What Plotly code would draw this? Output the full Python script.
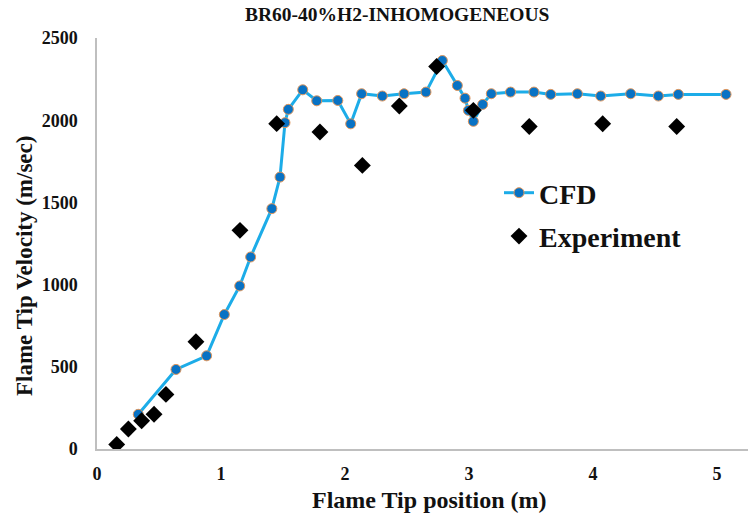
import plotly.graph_objects as go

# CFD flame-tip trajectory
cfd_x = [0.333, 0.637, 0.884, 1.027, 1.151, 1.239, 1.41, 1.476, 1.516, 1.543, 1.659,
         1.772, 1.942, 2.046, 2.134, 2.301, 2.476, 2.653, 2.785, 2.906, 2.968, 2.995,
         3.035, 3.11, 3.18, 3.335, 3.524, 3.659, 3.874, 4.062, 4.304, 4.527, 4.688, 5.073]
cfd_v = [211, 484, 567, 818, 992, 1168, 1462, 1654, 1985, 2066, 2185,
         2118, 2120, 1978, 2161, 2147, 2161, 2171, 2363, 2211, 2134, 2060,
         1993, 2096, 2161, 2171, 2171, 2157, 2161, 2147, 2161, 2147, 2157, 2157]

# Measured flame-tip velocities
exp_x = [0.159, 0.253, 0.36, 0.46, 0.556, 0.798, 1.153, 1.449, 1.798, 2.14, 2.438,
         2.739, 3.035, 3.486, 4.078, 4.675]
exp_v = [28, 122, 172, 211, 332, 652, 1330, 1979, 1928, 1725, 2086,
         2327, 2060, 1962, 1978, 1962]

x_ticks = [0, 1, 2, 3, 4, 5]
y_ticks = [0, 500, 1000, 1500, 2000, 2500]

serif = "Liberation Serif, Times New Roman, serif"
ink = "#111111"

fig = go.Figure()
fig.add_trace(go.Scatter(
    x=cfd_x, y=cfd_v, mode="lines+markers", name="CFD", legendgroup="a",
    line=dict(color="#1CACE8", width=3),
    marker=dict(symbol="circle", size=10, color="#0872C4",
                line=dict(color="#E0955A", width=1)),
))
fig.add_trace(go.Scatter(
    x=exp_x, y=exp_v, mode="markers", name="Experiment", legendgroup="b",
    marker=dict(symbol="diamond", size=13, color="#000000"),
))

W, H = 755, 517
L, R, T, B = 97, 7, 38, 68
pw, ph = W - L - R, H - T - B


def px_x(p):
    return (p - L) / pw


def px_y(p):
    return (H - B - p) / ph


fig.update_layout(
    width=W, height=H,
    margin=dict(l=L, r=R, t=T, b=B),
    paper_bgcolor="white", plot_bgcolor="white",
    font=dict(family=serif, color=ink),
    showlegend=True,
    legend=dict(x=px_x(499), y=px_y(168), xanchor="left", yanchor="top",
                font=dict(family=serif, size=28, weight="bold", color=ink),
                bgcolor="rgba(0,0,0,0)", tracegroupgap=4, itemwidth=30),
    annotations=[
        dict(text="BR60-40%H2-INHOMOGENEOUS", xref="paper", yref="paper",
             x=px_x(397), y=px_y(15), xanchor="center", yanchor="middle",
             showarrow=False,
             font=dict(family=serif, size=19.5, weight="bold", color=ink)),
        dict(text="Flame Tip position (m)", xref="paper", yref="paper",
             x=px_x(429), y=px_y(500), xanchor="center", yanchor="middle",
             showarrow=False,
             font=dict(family=serif, size=24, weight="bold", color=ink)),
        dict(text="Flame Tip Velocity (m/sec)", xref="paper", yref="paper",
             x=px_x(24), y=px_y(266), xanchor="center", yanchor="middle",
             showarrow=False, textangle=-90,
             font=dict(family=serif, size=23, weight="bold", color=ink)),
    ],
)

fig.update_xaxes(
    range=[0, 5.25], tickvals=x_ticks, ticktext=[str(t) for t in x_ticks],
    showgrid=False, zeroline=False, showline=True, linecolor="#BFBFBF", linewidth=1.5,
    ticks="", ticklabelstandoff=8,
    tickfont=dict(family=serif, size=18, weight="bold", color=ink),
)
fig.update_yaxes(
    range=[0, 2500], tickvals=y_ticks, ticktext=[str(t) for t in y_ticks],
    showgrid=False, zeroline=False, showline=True, linecolor="#BFBFBF", linewidth=1.5,
    ticks="", ticklabelstandoff=14,
    tickfont=dict(family=serif, size=18, weight="bold", color=ink),
)

fig.write_html("out.html")
